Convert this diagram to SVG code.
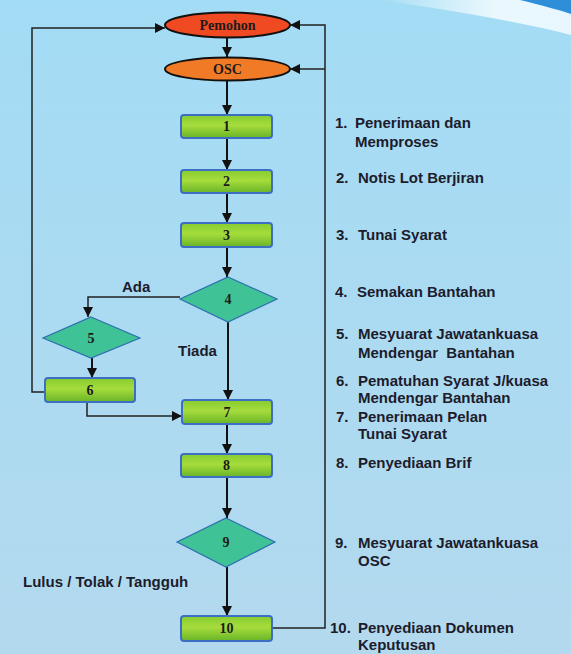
<svg xmlns="http://www.w3.org/2000/svg" width="571" height="654" viewBox="0 0 571 654">
<defs>
<linearGradient id="bg" x1="0" y1="0" x2="0" y2="1">
<stop offset="0" stop-color="#a3dcf5"/>
<stop offset="1" stop-color="#b3d9ee"/>
</linearGradient>
<linearGradient id="sw" x1="0" y1="0" x2="1" y2="0">
<stop offset="0" stop-color="#ffffff" stop-opacity="0"/>
<stop offset="0.6" stop-color="#f2fbff" stop-opacity="0.9"/>
<stop offset="1" stop-color="#e8f7ff"/>
</linearGradient>
<linearGradient id="box" x1="0" y1="0" x2="0" y2="1">
<stop offset="0" stop-color="#86cc30"/>
<stop offset="0.45" stop-color="#a6dc3c"/>
<stop offset="1" stop-color="#68b428"/>
</linearGradient>
<marker id="ah" viewBox="0 0 10 10" refX="10" refY="5" markerWidth="10" markerHeight="10" markerUnits="userSpaceOnUse" orient="auto">
<path d="M0,0 L10,5 L0,10 z" fill="#111"/>
</marker>
<style>
.bx{fill:url(#box);stroke:#3c6fc4;stroke-width:2}
.dm{fill:#3fc295;stroke:#2e6eb0;stroke-width:1.2}
.num{font-family:"Liberation Serif",serif;font-weight:bold;font-size:14px;fill:#1b1b1b;text-anchor:middle}
.lb{font-family:"Liberation Sans",Arial,sans-serif;font-weight:bold;font-size:15px;fill:#1c1c2c}
.cn{fill:none;stroke:#111;stroke-width:2}
.cn2{fill:none;stroke:#222;stroke-width:1.5}
</style>
</defs>
<rect x="0" y="0" width="571" height="654" fill="url(#bg)"/>
<path d="M380,0 C450,10 520,22 571,35 L571,0 z" fill="url(#sw)"/>
<path d="M520,0 C540,5 560,10 571,14 L571,0 z" fill="#2e8fd8"/>

<g id="connectors">
<line class="cn" x1="227" y1="37" x2="227" y2="57" marker-end="url(#ah)"/>
<line class="cn" x1="227" y1="80" x2="227" y2="115" marker-end="url(#ah)"/>
<line class="cn" x1="227" y1="138" x2="227" y2="170" marker-end="url(#ah)"/>
<line class="cn" x1="227" y1="193" x2="227" y2="223" marker-end="url(#ah)"/>
<line class="cn" x1="227" y1="247" x2="227" y2="277" marker-end="url(#ah)"/>
<polyline class="cn2" points="180,297 88,297 88,317" marker-end="url(#ah)"/>
<line class="cn" x1="92" y1="358" x2="92" y2="378" marker-end="url(#ah)"/>
<line class="cn" x1="228" y1="322" x2="228" y2="400" marker-end="url(#ah)"/>
<polyline class="cn2" points="87,402 87,416 182,416" marker-end="url(#ah)"/>
<polyline class="cn2" points="45,392 32,392 32,28 165,28" marker-end="url(#ah)"/>
<line class="cn" x1="227" y1="424" x2="227" y2="454" marker-end="url(#ah)"/>
<line class="cn" x1="227" y1="477" x2="227" y2="518" marker-end="url(#ah)"/>
<line class="cn" x1="227" y1="567" x2="227" y2="616" marker-end="url(#ah)"/>
<polyline class="cn2" points="272,628 325,628 325,25 290,25" marker-end="url(#ah)"/>
<line class="cn2" x1="325" y1="69" x2="290" y2="69" marker-end="url(#ah)"/>
</g>

<g id="pemohon">
<ellipse cx="227.5" cy="25" rx="62.5" ry="12.5" fill="#f04a22" stroke="#111" stroke-width="2"/>
<text class="num" x="227.5" y="30">Pemohon</text>
</g>
<g id="osc">
<ellipse cx="227.5" cy="69" rx="62.5" ry="11.5" fill="#f17a26" stroke="#111" stroke-width="2"/>
<text class="num" x="227.5" y="74">OSC</text>
</g>
<g id="n1"><rect class="bx" x="181" y="115" width="91" height="23" rx="3"/><text class="num" x="226.5" y="131">1</text></g>
<g id="n2"><rect class="bx" x="181" y="170" width="91" height="23" rx="3"/><text class="num" x="226.5" y="186">2</text></g>
<g id="n3"><rect class="bx" x="181" y="223" width="91" height="24" rx="3"/><text class="num" x="226.5" y="240">3</text></g>
<g id="n4"><polygon class="dm" points="228,277 277,299 228,322 180,299"/><text class="num" x="228" y="304">4</text></g>
<g id="n5"><polygon class="dm" points="91,317 140,338 91,358 43,338"/><text class="num" x="91" y="343">5</text></g>
<g id="n6"><rect class="bx" x="45" y="378" width="90" height="24" rx="3"/><text class="num" x="90" y="395">6</text></g>
<g id="n7"><rect class="bx" x="182" y="400" width="90" height="24" rx="3"/><text class="num" x="227" y="417">7</text></g>
<g id="n8"><rect class="bx" x="181" y="454" width="91" height="23" rx="3"/><text class="num" x="226.5" y="470">8</text></g>
<g id="n9"><polygon class="dm" points="226,518 275,542 226,567 177,542"/><text class="num" x="226" y="547">9</text></g>
<g id="n10"><rect class="bx" x="181" y="616" width="91" height="25" rx="3"/><text class="num" x="226.5" y="633">10</text></g>

<g id="labels">
<text class="lb" x="122" y="292">Ada</text>
<text class="lb" x="178" y="356">Tiada</text>
<text class="lb" x="23" y="587">Lulus / Tolak / Tangguh</text>
</g>

<g id="legend">
<text class="lb" x="335" y="128">1.</text><text class="lb" x="355" y="128">Penerimaan dan</text>
<text class="lb" x="355" y="147">Memproses</text>
<text class="lb" x="336" y="183">2.</text><text class="lb" x="358" y="183">Notis Lot Berjiran</text>
<text class="lb" x="336" y="240">3.</text><text class="lb" x="358" y="240">Tunai Syarat</text>
<text class="lb" x="335" y="297">4.</text><text class="lb" x="357" y="297">Semakan Bantahan</text>
<text class="lb" x="336" y="339">5.</text><text class="lb" x="358" y="339">Mesyuarat Jawatankuasa</text>
<text class="lb" x="358" y="358" xml:space="preserve">Mendengar  Bantahan</text>
<text class="lb" x="336" y="386">6.</text><text class="lb" x="358" y="386">Pematuhan Syarat J/kuasa</text>
<text class="lb" x="358" y="403">Mendengar Bantahan</text>
<text class="lb" x="336" y="422">7.</text><text class="lb" x="358" y="422">Penerimaan Pelan</text>
<text class="lb" x="358" y="439">Tunai Syarat</text>
<text class="lb" x="336" y="468">8.</text><text class="lb" x="358" y="468">Penyediaan Brif</text>
<text class="lb" x="335" y="548">9.</text><text class="lb" x="358" y="548">Mesyuarat Jawatankuasa</text>
<text class="lb" x="358" y="566">OSC</text>
<text class="lb" x="330" y="633">10.</text><text class="lb" x="358" y="633">Penyediaan Dokumen</text>
<text class="lb" x="358" y="650">Keputusan</text>
</g>
</svg>
